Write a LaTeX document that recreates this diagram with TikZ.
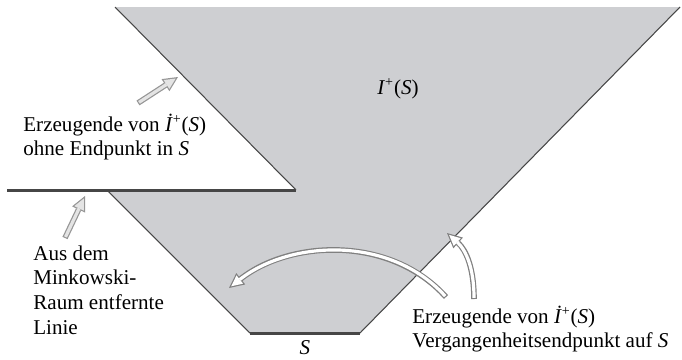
\documentclass[tikz,border=0pt]{standalone}
\usepackage{fontspec}
\setmainfont{Liberation Serif}
\usetikzlibrary{arrows.meta}

\definecolor{futuregray}{RGB}{206,207,210}
\definecolor{edgegray}{RGB}{70,70,70}
\definecolor{arrowgray}{RGB}{150,150,150}
\definecolor{arrowfill}{RGB}{228,228,228}

\tikzset{
  labeltext/.style={align=left, anchor=west, inner sep=0pt, font=\fontsize{12}{14}\selectfont},
  hollowouter/.style={draw=#1, line width=3.2pt, -{Triangle[length=8.5pt,width=8.2pt,line width=0pt]}},
  hollowinner/.style={draw=#1, line width=1.8pt, shorten >=1.6pt, shorten <=0.7pt, -{Triangle[length=6.2pt,width=6pt,line width=0pt]}},
}

\begin{document}
\begin{tikzpicture}[x=0.02cm, y=-0.02cm]
        \useasboundingbox (0,0) rectangle (682,359);
        % ==== CORNERS OF THE REGION ====
        \coordinate (topleft) at (115,7);
        \coordinate (topright) at (680,7);
        \coordinate (sright) at (360,333);
        \coordinate (sleft) at (250,333);
        \coordinate (cutleft) at (107,190);
        \coordinate (cutright) at (296,190);
        \coordinate (lineend) at (7,190);
        % ==== FUTURE REGION ====
        \fill[futuregray] (topleft) -- (topright) -- (sright) -- (sleft)
            -- (cutleft) -- (cutright) -- cycle;
        \draw[edgegray, line width=0.6pt] (topleft) -- (cutright);
        \draw[edgegray, line width=0.6pt] (cutleft) -- (sleft);
        \draw[edgegray, line width=0.6pt] (sright) -- (topright);
        \draw[edgegray, line width=1.7pt] (lineend) -- (cutright);
        \draw[edgegray, line width=1.7pt] (sleft) -- (sright);

        % ==== LABELS ====
        \node (future) at (398,89) {\fontsize{12}{14}\selectfont\textit{I}\textsuperscript{+}(\textit{S})};
        \node (slabel) at (305,348) {\fontsize{12}{14}\selectfont\textit{S}};
        \node[labeltext] (gennoend) at (23,137)
            {Erzeugende von \textit{İ}\textsuperscript{+}(\textit{S})\\ohne Endpunkt in \textit{S}};
        \node[labeltext] (removed) at (33,290)
            {Aus dem\\Minkowski-\\Raum entfernte\\Linie};
        \node[labeltext] (genend) at (412,329)
            {Erzeugende von \textit{İ}\textsuperscript{+}(\textit{S})\\Vergangenheitsendpunkt auf \textit{S}};

        % ==== ARROWS ====
        \coordinate (noendtail) at (138,103);
        \coordinate (noendtip) at (178,77);
        \coordinate (removedtail) at (65,238);
        \coordinate (removedtip) at (85,196);
        \coordinate (arctail) at (446,297);
        \coordinate (arctip) at (229,288);
        \coordinate (endtail) at (474,299);
        \coordinate (endtip) at (447,233);
        \draw[hollowouter=arrowgray] (noendtail) -- (noendtip);
        \draw[hollowinner=arrowfill] (noendtail) -- (noendtip);
        \draw[hollowouter=arrowgray] (removedtail) -- (removedtip);
        \draw[hollowinner=arrowfill] (removedtail) -- (removedtip);
        \draw[hollowouter=gray] (arctail) .. controls (390,235) and (290,240) .. (arctip);
        \draw[hollowinner=white] (arctail) .. controls (390,235) and (290,240) .. (arctip);
        \draw[hollowouter=gray] (endtail) .. controls (474,268) and (466,250) .. (endtip);
        \draw[hollowinner=white] (endtail) .. controls (474,268) and (466,250) .. (endtip);
     \end{tikzpicture}
\end{document}
